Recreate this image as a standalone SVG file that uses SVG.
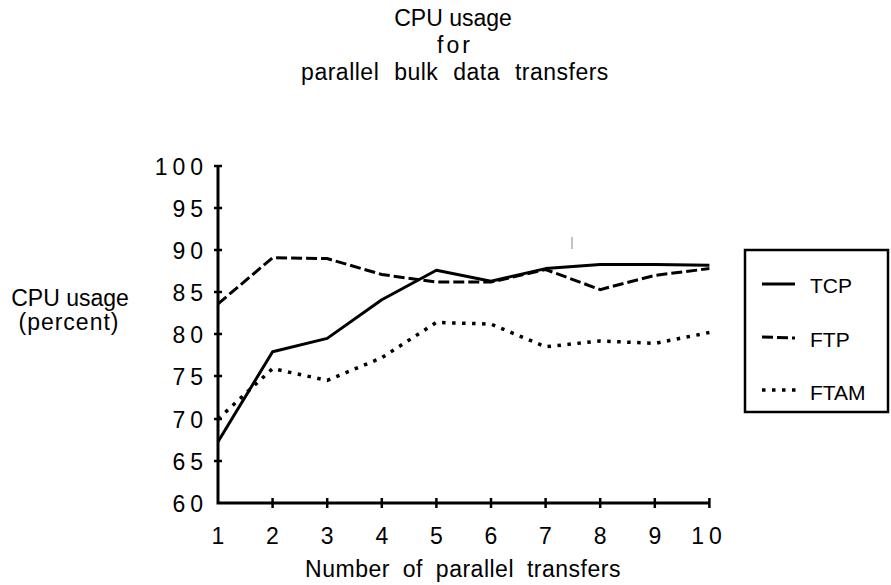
<svg xmlns="http://www.w3.org/2000/svg" width="891" height="585" viewBox="0 0 891 585">
  <style>
    text { font-family: "Liberation Sans", Arial, sans-serif; fill: #000; }
    .title { font-size: 23px; text-anchor: middle; }
    .num { font-size: 23px; letter-spacing: 5px; }
    .ylab { text-anchor: end; }
    .xlab { text-anchor: middle; }
    .axis { stroke: #000; stroke-width: 3; fill: none; }
    .tick { stroke: #000; stroke-width: 2.5; }
    .tcp { stroke: #000; stroke-width: 3; fill: none; stroke-linejoin: round; }
    .ftp { stroke: #000; stroke-width: 3; fill: none; stroke-dasharray: 11 4; }
    .ftam { stroke: #000; stroke-width: 3.5; fill: none; stroke-dasharray: 3.5 6.5; }
    .legend-text { font-size: 21px; }
  </style>

  <rect width="891" height="585" fill="#fff"/>

  <!-- chart title -->
  <g id="title">
    <text class="title" x="453" y="26">CPU usage</text>
    <text class="title" x="455" y="53" letter-spacing="3">for</text>
    <text class="title" x="455" y="80" letter-spacing="0.5" word-spacing="8">parallel bulk data transfers</text>
  </g>

  <!-- y axis title -->
  <g id="y-title">
    <text class="title" x="70" y="306">CPU usage</text>
    <text class="title" x="69" y="330" letter-spacing="1">(percent)</text>
  </g>

  <!-- axes -->
  <g id="axes">
    <path class="axis" d="M218,166 V503 H709"/>
    <g class="tick">
      <line x1="214" y1="166" x2="222" y2="166"/>
      <line x1="214" y1="208" x2="222" y2="208"/>
      <line x1="214" y1="250" x2="222" y2="250"/>
      <line x1="214" y1="292" x2="222" y2="292"/>
      <line x1="214" y1="334" x2="222" y2="334"/>
      <line x1="214" y1="376" x2="222" y2="376"/>
      <line x1="214" y1="419" x2="222" y2="419"/>
      <line x1="214" y1="461" x2="222" y2="461"/>
      <line x1="272.6" y1="498" x2="272.6" y2="508"/>
      <line x1="327.2" y1="498" x2="327.2" y2="508"/>
      <line x1="381.8" y1="498" x2="381.8" y2="508"/>
      <line x1="436.4" y1="498" x2="436.4" y2="508"/>
      <line x1="491" y1="498" x2="491" y2="508"/>
      <line x1="545.6" y1="498" x2="545.6" y2="508"/>
      <line x1="600.2" y1="498" x2="600.2" y2="508"/>
      <line x1="654.8" y1="498" x2="654.8" y2="508"/>
      <line x1="709.4" y1="498" x2="709.4" y2="508"/>
    </g>
    <g class="num ylab">
      <text x="208" y="175">100</text>
      <text x="208" y="217">95</text>
      <text x="208" y="259">90</text>
      <text x="208" y="301">85</text>
      <text x="208" y="343">80</text>
      <text x="208" y="385">75</text>
      <text x="208" y="428">70</text>
      <text x="208" y="470">65</text>
      <text x="208" y="512">60</text>
    </g>
    <g class="num xlab">
      <text x="220.5" y="544">1</text>
      <text x="275" y="544">2</text>
      <text x="329.7" y="544">3</text>
      <text x="384.3" y="544">4</text>
      <text x="439" y="544">5</text>
      <text x="493.5" y="544">6</text>
      <text x="548" y="544">7</text>
      <text x="602.7" y="544">8</text>
      <text x="657.3" y="544">9</text>
      <text x="709" y="544">10</text>
    </g>
    <text class="title" x="463" y="577" letter-spacing="0.5" word-spacing="6">Number of parallel transfers</text>
  </g>

  <!-- data series -->
  <g id="connectors">
    <polyline id="series-tcp" class="tcp" points="218,441.7 272.6,351.8 327.2,338.4 381.8,299.7 436.4,270.3 491,281.2 545.6,268.6 600.2,264.4 654.8,264.4 709.4,265.3"/>
    <polyline id="series-ftp" class="ftp" points="218,303.9 272.6,257.7 327.2,258.6 381.8,274.5 436.4,282.1 491,282.1 545.6,269.5 600.2,289.6 654.8,275.4 709.4,268.6"/>
    <polyline id="series-ftam" class="ftam" points="218,419 272.6,368.6 327.2,380.4 381.8,357.7 436.4,322.4 491,324.1 545.6,346.8 600.2,340.9 654.8,343.4 709.4,332.5"/>
  </g>

  <!-- legend -->
  <g id="legend">
    <rect x="745" y="250" width="143" height="162" fill="#fff" stroke="#000" stroke-width="2.5"/>
    <line class="tcp" x1="762" y1="284" x2="795" y2="284"/>
    <text class="legend-text" x="810" y="293">TCP</text>
    <line class="ftp" x1="762" y1="337" x2="795" y2="338"/>
    <text class="legend-text" x="810" y="347">FTP</text>
    <line class="ftam" x1="762" y1="390" x2="797" y2="390"/>
    <text class="legend-text" x="810" y="400">FTAM</text>
  </g>

  <!-- small print marks -->
  <line x1="572" y1="237" x2="572" y2="249" stroke="#888" stroke-width="1"/>
</svg>
